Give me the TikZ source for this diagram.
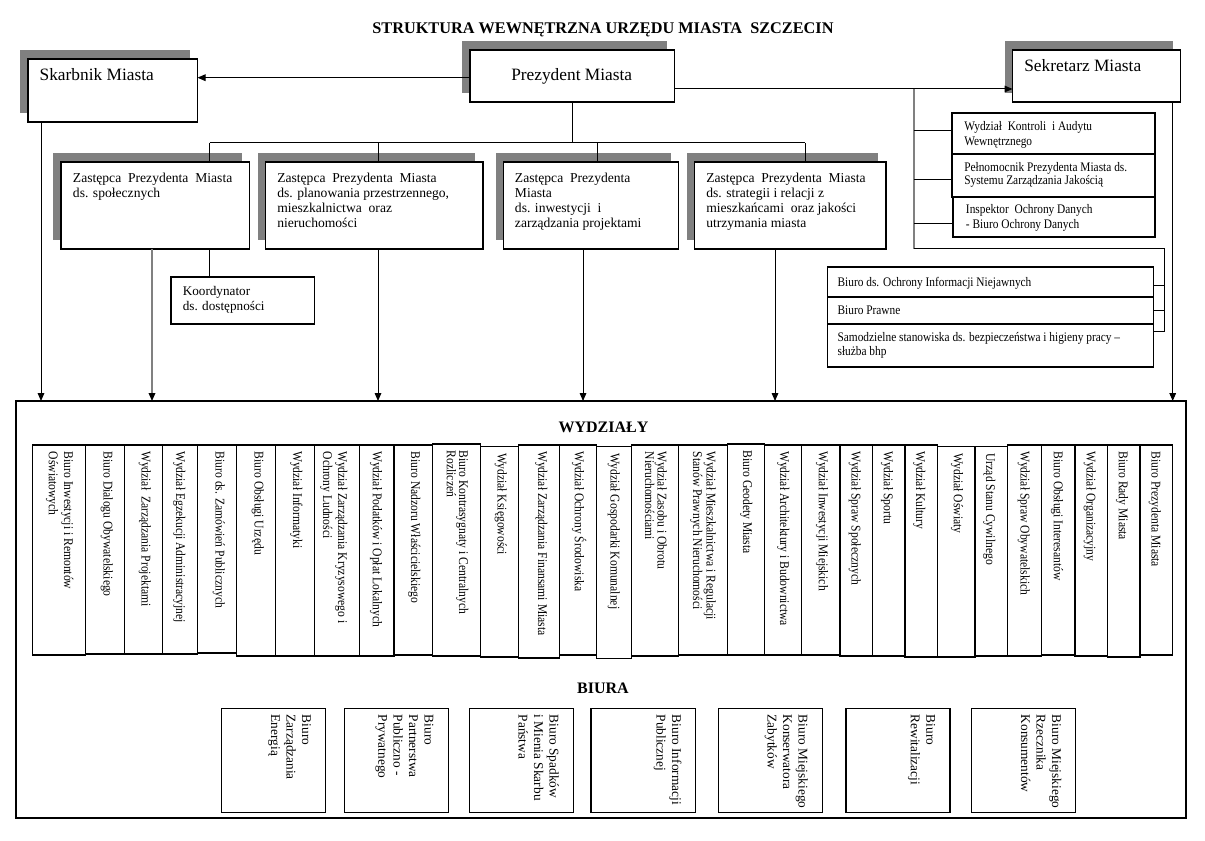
\documentclass[tikz,border=0pt]{standalone}
\usepackage{fontspec}
\setmainfont{Liberation Serif}
\newfontfamily\condfont[FakeStretch=0.87,Ligatures=TeX]{Liberation Serif}
\usetikzlibrary{arrows.meta}
\definecolor{shadowc}{RGB}{128,128,128}
\newcommand\topr{\rule{0pt}{8pt}}
\tikzset{
  boxst/.style={draw=black, line width=0.8pt, fill=white, inner sep=0pt, outer sep=0pt},
  conn/.style={line width=0.75pt, black},
  gconn/.style={line width=0.9pt, shadowc},
  arr/.style={-{Triangle[length=6pt,width=5pt,color=black]}},
  txt/.style={inner sep=0pt, anchor=north west, align=left},
  one/.style={inner sep=0pt, anchor=base west},
  bigf/.style={font={\fontsize{13}{15}\selectfont}},
  zf/.style={font={\fontsize{10.2}{11.25}\selectfont}},
}
\newcommand\ubox[5]{\node[boxst, anchor=north west, minimum width={(#4-#2)*0.75pt}, minimum height={(#5-#3)*0.75pt}] (#1) at (#2,#3) {};}
\newcommand\ushbox[5]{\fill[shadowc] (#2-8,#3-8.5) rectangle (#4-8,#5-8.5);\ubox{#1}{#2}{#3}{#4}{#5}}
\newcommand\dept[7]{\ubox{#1}{#2}{#4}{#3}{#5}\node[txt, rotate=-90, font={\condfont\fontsize{10}{#6}\selectfont}] (#1t) at (#3-10.2,#4+6.5) {\topr #7};}
\newcommand\biuro[4]{\ubox{#1}{#2}{708.3}{#3}{812.3}\node[txt, rotate=-90, font={\fontsize{10}{11.6}\selectfont}] (#1t) at (#3-12.7,714.5) {\topr #4};}
\begin{document}
\begin{tikzpicture}[x=0.75pt,y=-0.75pt]
\useasboundingbox (0,0) rectangle (1205,841);
\fill[white] (0,0) rectangle (1205,841);

% title
\node[inner sep=0pt, anchor=base, font={\fontsize{12.2}{14}\selectfont\bfseries}] (title) at (603,33.3) {STRUKTURA WEWNĘTRZNA URZĘDU MIASTA\ \ SZCZECIN};

% top level boxes
\ushbox{skarb}{28}{59}{197.5}{122}
\node[one, bigf] (skarbt) at (39.4,80.5) {Skarbnik Miasta};
\ushbox{prez}{470}{50}{674.6}{102}
\node[one, bigf] (prezt) at (511,80.5) {Prezydent Miasta};
\ushbox{sekr}{1012.5}{50}{1180.6}{102}
\node[one, bigf] (sekrt) at (1024,71.5) {Sekretarz Miasta};

% deputies
\ushbox{z1}{61}{162}{249.5}{249}
\node[txt, zf] (z1t) at (72.7,171.3) {\topr Zastępca\ \ Prezydenta\ \ Miasta\\ds. społecznych};
\ushbox{z2}{265.6}{162}{483}{249}
\node[txt, zf] (z2t) at (277,171.3) {\topr Zastępca\ \ Prezydenta\ \ Miasta\\ds. planowania przestrzennego,\\mieszkalnictwa\ \ oraz\\nieruchomości};
\ushbox{z3}{503.6}{162}{678.5}{249}
\node[txt, zf] (z3t) at (514.7,171.3) {\topr Zastępca\ \ Prezydenta\\Miasta\\ds. inwestycji\ \ i\\zarządzania projektami};
\ushbox{z4}{694.5}{162}{886}{249}
\node[txt, zf] (z4t) at (706,171.3) {\topr Zastępca\ \ Prezydenta\ \ Miasta\\ds. strategii i relacji z\\mieszkańcami\ \ oraz jakości\\utrzymania miasta};

% coordinator
\ubox{koord}{171}{277}{314.6}{324}
\node[txt, font={\fontsize{9.9}{11.25}\selectfont}] (koordt) at (182.5,284.3) {\topr Koordynator\\ds. dostępności};

% secretary side boxes
\ubox{wk}{952}{113}{1155}{154}
\ubox{pp}{952}{154}{1155}{197}
\ubox{io}{953}{197}{1155}{237}
\node[txt, font={\condfont\fontsize{9.8}{11.25}\selectfont}] (wkt) at (964,119.3) {\topr Wydział\ \ Kontroli\ \ i Audytu\\Wewnętrznego};
\node[txt, font={\condfont\fontsize{9.8}{9.5}\selectfont}] (ppt) at (964,161) {\topr Pełnomocnik Prezydenta Miasta ds.\\Systemu Zarządzania Jakością};
\node[txt, font={\condfont\fontsize{9.8}{11.25}\selectfont}] (iot) at (965.7,202.6) {\topr Inspektor\ \ Ochrony Danych\\- Biuro Ochrony Danych};

\ubox{bo}{827.7}{267}{1153.8}{297}
\ubox{bp}{827.7}{297}{1153.8}{324}
\ubox{ss}{827.7}{324}{1153.8}{367}
\node[one, font={\condfont\fontsize{9.8}{11}\selectfont}] (bot) at (837.3,286.7) {Biuro ds. Ochrony Informacji Niejawnych};
\node[one, font={\condfont\fontsize{9.8}{11}\selectfont}] (bpt) at (837.3,315) {Biuro Prawne};
\node[txt, font={\condfont\fontsize{9.8}{10}\selectfont}] (sst) at (837.3,331) {\topr Samodzielne stanowiska ds. bezpieczeństwa i higieny pracy –\\służba bhp};

% big frame
\ubox{wyd}{16}{401}{1186}{818}
\node[inner sep=0pt, anchor=base, font={\fontsize{12}{14}\selectfont\bfseries}] (wydt) at (603.5,432.5) {WYDZIAŁY};
\node[inner sep=0pt, anchor=base, font={\fontsize{12}{14}\selectfont\bfseries}] (biut) at (603,693.5) {BIURA};

% departments
\dept{d1}{32.7}{85.3}{445}{655}{11.5}{Biuro Inwestycji i Remontów\\Oświatowych}
\dept{d2}{85.3}{124.7}{445}{654}{10}{Biuro Dialogu Obywatelskiego}
\dept{d3}{124.7}{162.7}{445}{654}{10}{Wydział\ \ Zarządzania Projektami}
\dept{d4}{162.7}{197.3}{445}{654}{10}{Wydział Egzekucji Administracyjnej}
\dept{d5}{197.3}{236.7}{445}{653}{10}{Biuro ds. Zamówień Publicznych}
\dept{d6}{236.7}{275.7}{445}{656}{10}{Biuro Obsługi Urzędu}
\dept{d7}{275.7}{314.3}{445}{656}{10}{Wydział Informatyki}
\dept{d8}{314.3}{359.3}{445}{656}{11.25}{Wydział Zarządzania Kryzysowego i\\Ochrony Ludności}
\dept{d9}{359.3}{394}{445}{656}{10}{Wydział Podatków i Opłat Lokalnych}
\dept{d10}{394}{432.3}{445}{655}{10}{Biuro Nadzoru Właścicielskiego}
\dept{d11}{432.3}{480.3}{444}{656}{9.3}{Biuro Kontrasygnaty i Centralnych\\Rozliczeń}
\dept{d12}{480.3}{518.7}{446.7}{657}{10}{Wydział Księgowości}
\dept{d13}{518.7}{559.3}{445}{658}{10}{Wydział Zarządzania Finansami Miasta}
\dept{d14}{559.3}{596.7}{445}{655}{10}{Wydział Ochrony Środowiska}
\dept{d15}{596.7}{631.7}{446.7}{658.5}{10}{Wydział Gospodarki Komunalnej}
\dept{d16}{631.7}{678.7}{445}{656}{9.3}{Wydział Zasobu i Obrotu\\Nieruchomościami}
\dept{d17}{678.7}{727.7}{445}{655}{10}{Wydział Mieszkalnictwa i Regulacji\\Stanów Prawnych Nieruchomości}
\dept{d18}{727.7}{764.3}{444}{655}{10}{Biuro Geodety Miasta}
\dept{d19}{764.3}{801.3}{445}{655}{10}{Wydział Architektury i Budownictwa}
\dept{d20}{801.3}{840}{445}{655}{10}{Wydział Inwestycji Miejskich}
\dept{d21}{840}{872.7}{445}{656}{10}{Wydział Spraw Społecznych}
\dept{d22}{872.7}{905}{445}{656}{10}{Wydział Sportu}
\dept{d23}{905}{937.3}{445}{657}{10}{Wydział Kultury}
\dept{d24}{937.3}{975}{446.7}{657}{10}{Wydział Oświaty}
\dept{d25}{975}{1007.3}{446.7}{656}{10}{Urząd Stanu Cywilnego}
\dept{d26}{1007.3}{1041.7}{445}{656}{10}{Wydział Spraw Obywatelskich}
\dept{d27}{1041.7}{1075}{445}{655}{10}{Biuro Obsługi Interesantów}
\dept{d28}{1075}{1107.7}{445}{656}{10}{Wydział Organizacyjny}
\dept{d29}{1107.7}{1140}{445}{657}{10}{Biuro Rady Miasta}
\dept{d30}{1140}{1172.7}{445}{655}{10}{Biuro Prezydenta Miasta}

% offices
\biuro{b1}{221.7}{325.7}{Biuro\\Zarządzania\\Energią}
\biuro{b2}{344.3}{448.3}{Biuro\\Partnerstwa\\Publiczno -\\Prywatnego}
\biuro{b3}{469.3}{573.3}{Biuro Spadków\\i Mienia Skarbu\\Państwa}
\biuro{b4}{591}{695.7}{Biuro Informacji\\Publicznej}
\biuro{b5}{718.3}{822.3}{Biuro Miejskiego\\Konserwatora\\Zabytków}
\biuro{b6}{846}{950}{Biuro\\Rewitalizacji}
\biuro{b7}{971.7}{1075.7}{Biuro Miejskiego\\Rzecznika\\Konsumentów}

% connectors: top level
\coordinate (yA) at (0,77.7);
\coordinate (yB) at (0,89);
\draw[conn,arr] (prez.west |- yA) -- (skarb.east |- yA);
\draw[conn,arr] (prez.east |- yB) -- (sekr.west |- yB);

% bus to deputies
\coordinate (busL) at (209.5,143);
\coordinate (busR) at (805,143);
\coordinate (c2) at (378,143);
\coordinate (c3) at (597,143);
\draw[conn] (prez.south) -- (prez.south |- busL);
\draw[conn] (busL) -- (busR);
\draw[conn] (busL) -- (busL |- z1.north);
\draw[conn] (c2) -- (c2 |- z2.north);
\draw[conn] (c3) -- (c3 |- z3.north);
\draw[conn] (busR) -- (busR |- z4.north);
\draw[conn] (busL |- z1.south) -- (busL |- koord.north);

% arrows down to departments
\coordinate (xS) at (41,0);
\coordinate (x1) at (152,0);
\coordinate (x2) at (378,0);
\coordinate (x3) at (583,0);
\coordinate (x4) at (775,0);
\coordinate (xR) at (1172.7,0);
\draw[conn,arr] (xS |- skarb.south) -- (xS |- wyd.north);
\draw[gconn,arr] (x1 |- z1.south) -- (x1 |- wyd.north);
\draw[conn,arr] (x2 |- z2.south) -- (x2 |- wyd.north);
\draw[conn,arr] (x3 |- z3.south) -- (x3 |- wyd.north);
\draw[conn,arr] (x4 |- z4.south) -- (x4 |- wyd.north);
\draw[conn,arr] (xR |- sekr.south) -- (xR |- wyd.north);

% secretary side bracket
\coordinate (g0) at (914,89);
\coordinate (g1) at (914,249);
\coordinate (g2) at (1164.5,249);
\coordinate (g3) at (1164.5,331.7);
\coordinate (s1) at (914,130.7);
\coordinate (s2) at (914,180);
\coordinate (s3) at (914,224);
\coordinate (t1) at (1164.5,286);
\coordinate (t2) at (1164.5,311);
\draw[gconn] (g0) -- (g1);
\draw[conn] (g1) -- (g2) -- (g3);
\draw[conn] (s1) -- (s1 -| wk.west);
\draw[conn] (s2) -- (s2 -| pp.west);
\draw[conn] (s3) -- (s3 -| io.west);
\draw[conn] (t1) -- (t1 -| bo.east);
\draw[conn] (t2) -- (t2 -| bp.east);
\draw[conn] (g3) -- (g3 -| ss.east);
\end{tikzpicture}
\end{document}
